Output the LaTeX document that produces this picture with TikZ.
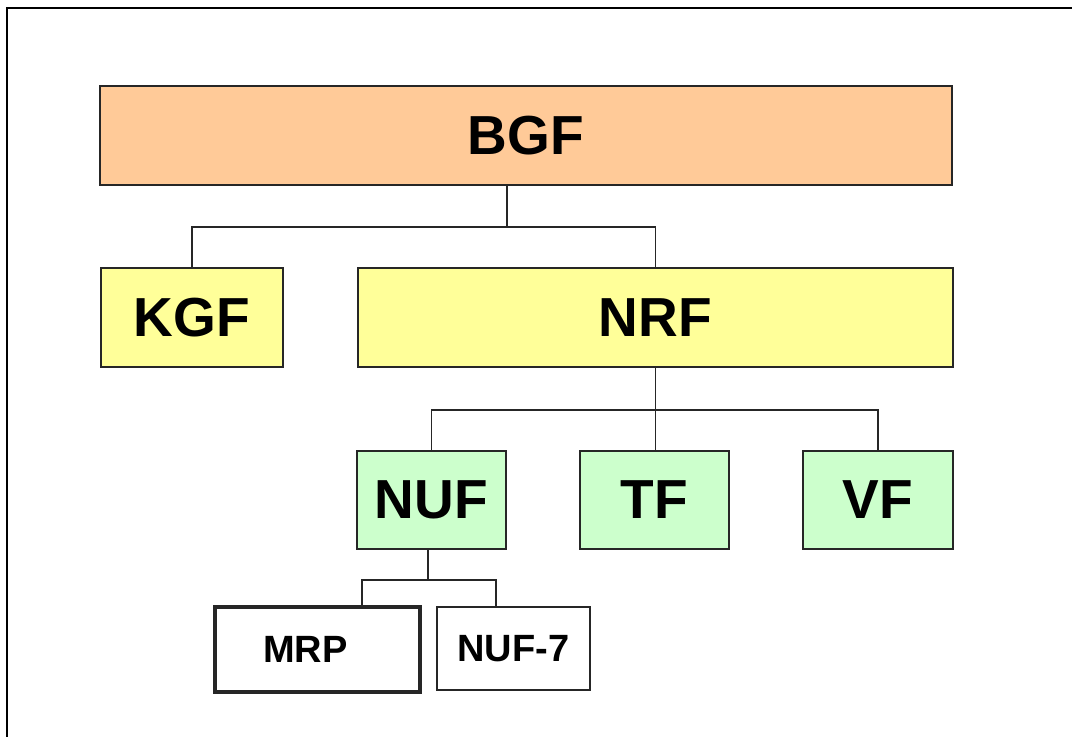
\documentclass[tikz,border=0pt]{standalone}
\usepackage{fontspec}
\setmainfont{Liberation Sans}
\begin{document}
\begin{tikzpicture}[x=1pt,y=-1pt,
  unit/.style={draw=black!85, line width=2pt, inner sep=0pt, text=black,
    font=\fontsize{55}{60}\selectfont\bfseries},
  topunit/.style={unit, fill={rgb,255:red,255;green,202;blue,152}},
  midunit/.style={unit, fill={rgb,255:red,255;green,255;blue,153}},
  lowunit/.style={unit, fill={rgb,255:red,204;green,255;blue,204}},
  subunit/.style={unit, fill=white, font=\fontsize{38}{42}\selectfont\bfseries},
  link/.style={draw=black!85, line width=1.6pt}]
  \useasboundingbox (0,0) rectangle (1072,737);
  % frame
  \draw[line width=2pt] (7,737) -- (7,8) -- (1072,8);

  % boxes
  \node[topunit, minimum width=852, minimum height=99] (BGF) at (526,135.5) {BGF};
  \node[midunit, minimum width=182, minimum height=99] (KGF) at (192,317.5) {KGF};
  \node[midunit, minimum width=595, minimum height=99] (NRF) at (655.5,317.5) {NRF};
  \node[lowunit, minimum width=149, minimum height=98] (NUF) at (431.5,500) {NUF};
  \node[lowunit, minimum width=149, minimum height=98] (TF) at (654.5,500) {TF};
  \node[lowunit, minimum width=150, minimum height=98] (VF) at (878,500) {VF};
  \node[subunit, line width=4pt, minimum width=205, minimum height=85] (MRP) at (317.5,649.5) {MRP\kern24pt};
  \node[subunit, line width=1.6pt, minimum width=153, minimum height=83] (NUF7) at (513.5,648.5) {NUF-7};

  % junction points
  \coordinate (j1) at (507,227);
  \coordinate (j2) at (655,410);
  \coordinate (j3) at (428,580);
  \coordinate (j3l) at (362,580);
  \coordinate (j3r) at (496,580);

  % connectors
  \draw[link] (j1 |- BGF.south) -- (j1);
  \draw[link] (KGF.north) |- (NRF.north |- j1) -- (NRF.north);
  \draw[link] (NRF.south) -- (NRF.south |- TF.north);
  \draw[link] (NUF.north) |- (VF.north |- j2) -- (VF.north);
  \draw[link] (j3 |- NUF.south) -- (j3);
  \draw[link] (j3l |- MRP.north) -- (j3l) -- (j3r) -- (j3r |- NUF7.north);
\end{tikzpicture}
\end{document}
